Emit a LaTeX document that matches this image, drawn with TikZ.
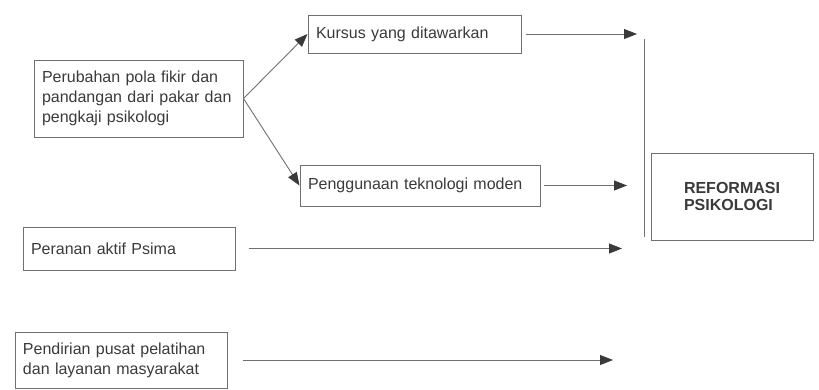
\documentclass[tikz,border=0pt]{standalone}
\usepackage{fontspec}
\setmainfont{Liberation Sans}
\usepackage{tikz}
\usetikzlibrary{arrows.meta}
\definecolor{garis}{HTML}{707070}
\definecolor{teks}{HTML}{3A3A3A}
\newcommand{\blok}[4][]{\node[draw=garis,line width=1pt,text=teks,align=left,inner xsep=8pt,font=\fontsize{16}{20}\selectfont,#1] at (#2) (#3) {#4}}

\begin{document}
\begin{tikzpicture}[x=1pt,y=-1pt,
    panah/.style={draw=garis,line width=0.9pt,-{Triangle[length=13pt,width=10pt,color=teks]}}]
  \useasboundingbox (0,0) rectangle (819,389);
  \blok[text width=193pt,minimum height=77pt]{138.5,98.5}{pola}{Perubahan pola fikir dan\\pandangan dari pakar dan\\pengkaji psikologi};
  \blok[text width=197pt,minimum height=38pt]{414.5,34}{kursus}{Kursus yang ditawarkan};
  \blok[text width=224pt,minimum height=41pt]{420,185.5}{guna}{Penggunaan teknologi moden};
  \blok[text width=196pt,minimum height=43pt]{129,248.5}{psima}{Peranan aktif Psima};
  \blok[text width=196pt,minimum height=56pt]{121,360}{pusat}{Pendirian pusat pelatihan\\dan layanan masyarakat};
  \blok[minimum width=162pt,minimum height=87pt,font=\bfseries\fontsize{16}{17}\selectfont]{732,196.5}{reformasi}{REFORMASI\\PSIKOLOGI};
  \coordinate (tiang1) at (644,39);
  \coordinate (tiang2) at (644,237);
  \coordinate (ujung1) at (637,34);
  \coordinate (ujung2) at (627,185.5);
  \coordinate (ujung3) at (622,248.5);
  \coordinate (ujung4) at (613,360);
  \draw[garis,line width=1pt] (tiang1) -- (tiang2);
  \draw[panah] (pola.east) -- (kursus.west);
  \draw[panah] (pola.east) -- (guna.west);
  \foreach \a/\b/\s in {kursus/ujung1/4pt,guna/ujung2/3pt,psima/ujung3/13pt,pusat/ujung4/15pt}
    \draw[panah,shorten <=\s] (\a.east) -- (\b);
\end{tikzpicture}
\end{document}
